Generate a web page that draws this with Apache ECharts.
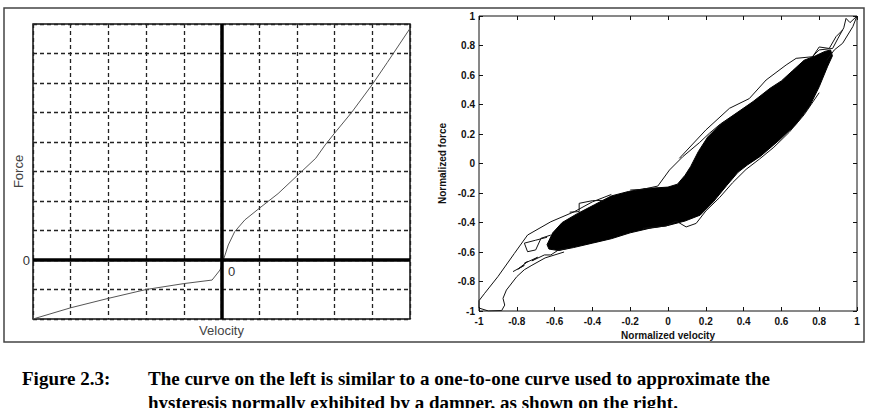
<!DOCTYPE html>
<html>
<head>
<meta charset="utf-8">
<script src="https://cdn.jsdelivr.net/npm/echarts@6/dist/echarts.min.js"></script>
<style>
  html, body { margin: 0; padding: 0; background: #fff; }
  #chart { width: 871px; height: 408px; }
</style>
</head>
<body>
<div id="chart"></div>
<script>
  // left: one-to-one force/velocity curve (arbitrary units, grid cells)
  const leftVelocity = [-5, -4, -3, -2, -1, -0.25, -0.04, 0.05, 0.18, 0.35, 0.62, 1.0, 1.5, 2.0, 2.5, 2.75, 3.0, 3.45, 4.0, 4.4, 5.0]
  const leftForce = [-2.0, -1.62, -1.3, -1.0, -0.8, -0.68, -0.34, 0.0, 0.51, 0.96, 1.36, 1.75, 2.25, 2.85, 3.45, 3.9, 4.3, 5.0, 5.95, 6.7, 7.85]

  // right: outline of the dense hysteresis band
  const blobVelocity = [-0.64, -0.61, -0.56, -0.48, -0.39, -0.30, -0.21, -0.12, 0.0, 0.05, 0.09, 0.12, 0.16, 0.21, 0.28, 0.36, 0.45, 0.54, 0.60, 0.66, 0.72, 0.78, 0.83, 0.86,
    0.87, 0.845, 0.80, 0.75, 0.68, 0.59, 0.49, 0.42, 0.37, 0.31, 0.24, 0.17, 0.09, 0.0, -0.10, -0.20, -0.30, -0.40, -0.50, -0.58, -0.63]
  const blobForce = [-0.55, -0.47, -0.40, -0.34, -0.28, -0.22, -0.19, -0.17, -0.16, -0.14, -0.08, -0.02, 0.08, 0.18, 0.27, 0.34, 0.42, 0.51, 0.56, 0.63, 0.70, 0.73, 0.76, 0.77,
    0.73, 0.66, 0.52, 0.39, 0.27, 0.16, 0.05, -0.01, -0.06, -0.15, -0.26, -0.35, -0.39, -0.42, -0.44, -0.47, -0.51, -0.54, -0.57, -0.59, -0.58]

  // right: the thinner loops around the band
  const outerLoopV = [-0.30, -0.40, -0.496, -0.62, -0.743, -0.813, -0.90, -0.97, -1.0, -1.0, -0.95, -0.88, -0.864, -0.873, -0.855, -0.80, -0.76, -0.72, -0.65, -0.55]
  const outerLoopF = [-0.21, -0.26, -0.327, -0.395, -0.485, -0.61, -0.767, -0.88, -0.93, -0.98, -1.0, -0.997, -0.96, -0.914, -0.858, -0.767, -0.72, -0.69, -0.64, -0.60]
  const tailV = [-0.82, -0.76, -0.795, -0.743, -0.76, -0.69, -0.72, -0.654, -0.62, -0.584, -0.53]
  const tailF = [-0.733, -0.69, -0.717, -0.665, -0.677, -0.636, -0.66, -0.62, -0.62, -0.59, -0.575]
  const hookV = [-0.62, -0.672, -0.70, -0.743, -0.76, -0.70, -0.64]
  const hookF = [-0.485, -0.507, -0.586, -0.598, -0.54, -0.52, -0.50]
  const stepV = [-0.52, -0.47, -0.47, -0.40, -0.34]
  const stepF = [-0.33, -0.326, -0.27, -0.252, -0.25]
  const bulgeV = [-0.20, -0.133, -0.054, 0.008, 0.078, 0.166, 0.219, 0.27, 0.32]
  const bulgeF = [-0.18, -0.175, -0.153, -0.044, 0.046, 0.141, 0.205, 0.26, 0.30]
  const upperV = [0.06, 0.20, 0.325, 0.43, 0.519, 0.625, 0.678, 0.765, 0.80, 0.853, 0.889, 0.924]
  const upperF = [0.035, 0.227, 0.374, 0.44, 0.566, 0.668, 0.713, 0.724, 0.79, 0.78, 0.86, 0.905]
  const topHookV = [0.76, 0.80, 0.871, 0.90, 0.93, 0.942, 0.963, 1.0, 0.978, 0.924, 0.88, 0.84]
  const topHookF = [0.72, 0.77, 0.78, 0.85, 0.92, 0.984, 0.955, 1.0, 0.928, 0.815, 0.77, 0.70]
  const lowerV = [-0.133, -0.01, 0.043, 0.096, 0.149, 0.20, 0.272, 0.342, 0.413, 0.484, 0.56, 0.64, 0.72, 0.80]
  const lowerF = [-0.44, -0.424, -0.39, -0.43, -0.406, -0.322, -0.232, -0.13, -0.04, 0.03, 0.11, 0.21, 0.33, 0.48]

  const captionLabel = 'Figure 2.3:'
  const captionLines = [
    'The curve on the left is similar to a one-to-one curve used to approximate the',
    'hysteresis normally exhibited by a damper, as shown on the right.'
  ]

  const pairs = (xs, ys) => xs.map((x, i) => [x, ys[i]])

  const boldText = { fontFamily: 'Liberation Sans', fontWeight: 'bold', fontSize: 10, color: '#111' }
  const thinLine = (xs, ys) => ({
    type: 'line',
    xAxisIndex: 1,
    yAxisIndex: 1,
    data: pairs(xs, ys),
    showSymbol: false,
    symbol: 'none',
    silent: true,
    lineStyle: { color: '#111', width: 1 }
  })
  const sideAxis = (grid, pos) => ({
    gridIndex: grid,
    type: 'value',
    position: pos,
    min: -1,
    max: 1,
    interval: 0.2,
    axisLine: { show: false, onZero: false },
    axisTick: { show: true, inside: true, length: 4, lineStyle: { color: '#111' } },
    axisLabel: { show: false },
    splitLine: { show: false }
  })

  const chart = echarts.init(document.getElementById('chart'), null, { renderer: 'svg' })
  chart.setOption({
    animation: false,
    backgroundColor: '#fff',
    grid: [
      { left: 33, top: 24, width: 377, height: 295, show: true, borderColor: '#111', borderWidth: 1.5 },
      { left: 479, top: 16, width: 378, height: 295, show: true, borderColor: '#111', borderWidth: 1 }
    ],
    xAxis: [{
      gridIndex: 0,
      type: 'value',
      min: -5,
      max: 5,
      interval: 1,
      axisLine: { show: false, onZero: false },
      axisTick: { show: false },
      axisLabel: { show: false },
      splitLine: { show: true, lineStyle: { type: [4, 3], color: '#222', width: 1.3 } },
      name: 'Velocity',
      nameLocation: 'middle',
      nameGap: 5,
      nameTextStyle: { fontFamily: 'Liberation Sans', fontSize: 13, color: '#444', verticalAlign: 'top' }
    }, Object.assign(sideAxis(1, 'bottom'), {
      axisLabel: Object.assign({ show: true, margin: 5 }, boldText),
      name: 'Normalized velocity',
      nameLocation: 'middle',
      nameGap: 17,
      nameTextStyle: Object.assign({ verticalAlign: 'top' }, boldText)
    }), sideAxis(1, 'top')],
    yAxis: [{
      gridIndex: 0,
      type: 'value',
      min: -2,
      max: 8,
      interval: 1,
      axisLine: { show: false, onZero: false },
      axisTick: { show: false },
      axisLabel: {
        margin: 3,
        fontFamily: 'Liberation Sans',
        fontSize: 13,
        color: '#333',
        formatter: v => (v === 0 ? '0' : '')
      },
      splitLine: { show: true, lineStyle: { type: [4, 3], color: '#222', width: 1.3 } },
      name: 'Force',
      nameLocation: 'middle',
      nameGap: 8,
      nameMoveOverlap: false,
      nameTextStyle: { fontFamily: 'Liberation Sans', fontSize: 13, color: '#444' }
    }, Object.assign(sideAxis(1, 'left'), {
      axisLabel: Object.assign({ show: true, margin: 4 }, boldText),
      name: 'Normalized force',
      nameLocation: 'middle',
      nameGap: 32,
      nameTextStyle: boldText
    }), sideAxis(1, 'right')],
    series: [{
      type: 'line',
      xAxisIndex: 0,
      yAxisIndex: 0,
      data: pairs(leftVelocity, leftForce),
      showSymbol: false,
      symbol: 'none',
      lineStyle: { color: '#555', width: 1 },
      markLine: {
        silent: true,
        symbol: 'none',
        label: { show: false },
        lineStyle: { color: '#000', width: 3.5, type: 'solid' },
        data: [{ xAxis: 0 }, { yAxis: 0 }]
      },
      markPoint: {
        symbol: 'circle',
        symbolSize: 1,
        itemStyle: { color: 'rgba(0,0,0,0)' },
        label: { show: true, formatter: '0', offset: [10, 11], fontFamily: 'Liberation Sans', fontSize: 13, color: '#333' },
        data: [{ coord: [0, 0] }]
      }
    }, {
      type: 'custom',
      xAxisIndex: 1,
      yAxisIndex: 1,
      silent: true,
      data: [[blobVelocity[0], blobForce[0]]],
      renderItem: function (params, api) {
        const pts = blobVelocity.map((v, i) => api.coord([v, blobForce[i]]))
        return { type: 'polygon', shape: { points: pts }, style: { fill: '#000', stroke: '#000', lineWidth: 1 } }
      }
    },
    thinLine(outerLoopV, outerLoopF),
    thinLine(tailV, tailF),
    thinLine(hookV, hookF),
    thinLine(stepV, stepF),
    thinLine(bulgeV, bulgeF),
    thinLine(upperV, upperF),
    thinLine(topHookV, topHookF),
    thinLine(lowerV, lowerF)],
    graphic: [{
      type: 'rect',
      silent: true,
      shape: { x: 4, y: 8, width: 860, height: 334 },
      style: { fill: 'none', stroke: '#444', lineWidth: 1.5 }
    }, {
      type: 'text',
      left: 22,
      top: 369,
      style: { text: captionLabel, font: 'bold 19px "Liberation Serif"', fill: '#000' }
    }, {
      type: 'text',
      left: 148,
      top: 369,
      style: { text: captionLines[0], font: 'bold 19px "Liberation Serif"', fill: '#000' }
    }, {
      type: 'text',
      left: 148,
      top: 393,
      style: { text: captionLines[1], font: 'bold 19px "Liberation Serif"', fill: '#000' }
    }]
  })
</script>
</body>
</html>
